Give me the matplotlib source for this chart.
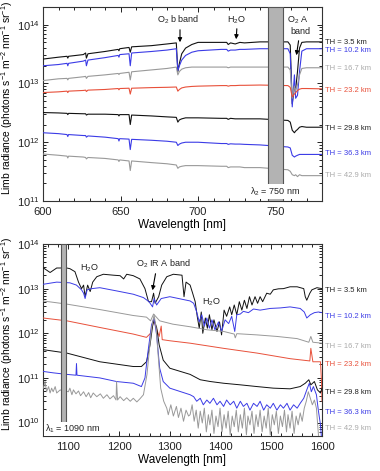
import matplotlib
matplotlib.use('Agg')
import matplotlib.pyplot as plt
from matplotlib.ticker import MultipleLocator, LogLocator, NullFormatter

plt.rcParams['font.family'] = ['Liberation Sans', 'DejaVu Sans']
plt.rcParams['mathtext.fontset'] = 'custom'
plt.rcParams['mathtext.rm'] = 'Liberation Sans'
plt.rcParams['mathtext.it'] = 'Liberation Sans:italic'
plt.rcParams['mathtext.default'] = 'regular'

# ---------------- data ----------------
th_labels = ['TH = 3.5 km', 'TH = 10.2 km', 'TH = 16.7 km', 'TH = 23.2 km',
             'TH = 29.8 km', 'TH = 36.3 km', 'TH = 42.9 km']
line_colors = ['#111111', '#3b3be6', '#999999', '#e8503a', '#111111', '#3b3be6', '#999999']
text_colors = ['#222222', '#3b3be6', '#aaaaaa', '#e8503a', '#222222', '#3b3be6', '#aaaaaa']

# top panel (600-780 nm)
wl_top = [600, 610, 615.5, 616, 616.5, 626, 627.5, 628, 629, 640, 648.5, 649, 649.5,
          655.5, 656.3, 657.2, 670, 680, 686, 687, 688, 689.5, 692, 696, 700, 715,
          718.5, 719.5, 721, 724, 727, 730, 740, 758, 759.5, 760.8, 762.2, 763,
          764.2, 765.5, 767, 770, 780]
top_35 = [2.6e13, 2.8e13, 2.9e13, 2.7e13, 2.9e13, 3.1e13, 3.3e13, 2.7e13, 3.2e13, 3.5e13,
          3.8e13, 3.6e13, 3.9e13, 4.1e13, 3.4e13, 4.2e13, 4.4e13, 4.7e13, 4.9e13, 1.6e13,
          2.2e13, 3.2e13, 4.0e13, 4.6e13, 5.0e13, 5.0e13, 5.0e13, 4.6e13, 4.9e13, 4.7e13,
          5.0e13, 4.9e13, 5.1e13, 5.1e13, 4.5e13, 4.5e12, 9.0e12, 8.0e12, 1.6e13, 4.0e13,
          5.0e13, 5.1e13, 5.1e13]
top_102 = [2.0e13, 2.1e13, 2.2e13, 2.0e13, 2.2e13, 2.4e13, 2.5e13, 2.0e13, 2.5e13, 2.75e13,
           3.0e13, 2.8e13, 3.1e13, 3.2e13, 2.0e13, 3.3e13, 3.5e13, 3.7e13, 3.9e13, 1.66e13,
           2.0e13, 2.5e13, 3.0e13, 3.4e13, 3.6e13, 3.8e13, 3.8e13, 3.55e13, 3.7e13, 3.7e13,
           3.8e13, 3.8e13, 3.9e13, 3.9e13, 3.2e13, 4.0e12, 1.4e13, 5.6e12, 6.3e12, 1.6e13,
           3.55e13, 3.9e13, 3.9e13]
top_167 = [1.12e13, 1.2e13, 1.22e13, 1.15e13, 1.22e13, 1.3e13, 1.32e13, 1.22e13, 1.32e13, 1.4e13,
           1.48e13, 1.42e13, 1.48e13, 1.55e13, 1.15e13, 1.58e13, 1.7e13, 1.8e13, 1.9e13, 1.4e13,
           1.6e13, 1.75e13, 1.85e13, 1.9e13, 1.9e13, 1.9e13, 1.9e13, 1.85e13, 1.9e13, 1.9e13,
           1.9e13, 1.9e13, 1.9e13, 1.9e13, 1.7e13, 5.6e12, 9.0e12, 7.5e12, 9.5e12, 1.4e13,
           1.8e13, 1.85e13, 1.85e13]
top_232 = [7.0e12, 7.2e12, 7.4e12, 7.0e12, 7.4e12, 7.6e12, 7.7e12, 7.3e12, 7.7e12, 7.9e12,
           8.2e12, 7.8e12, 8.2e12, 8.3e12, 6.6e12, 8.3e12, 8.5e12, 8.6e12, 8.7e12, 7.4e12,
           7.9e12, 8.4e12, 8.7e12, 8.9e12, 9.0e12, 9.2e12, 9.2e12, 9.0e12, 9.2e12, 9.2e12,
           9.3e12, 9.3e12, 9.4e12, 9.2e12, 8.6e12, 5.9e12, 6.6e12, 7.0e12, 7.6e12, 8.0e12,
           8.2e12, 8.2e12, 8.1e12]
top_298 = [3.2e12, 3.15e12, 3.1e12, 2.95e12, 3.1e12, 3.05e12, 3.05e12, 2.9e12, 3.0e12, 3.0e12,
           2.95e12, 2.8e12, 2.95e12, 2.95e12, 2.0e12, 2.9e12, 2.8e12, 2.7e12, 2.65e12, 2.2e12,
           2.4e12, 2.5e12, 2.6e12, 2.6e12, 2.6e12, 2.55e12, 2.55e12, 2.45e12, 2.55e12, 2.5e12,
           2.5e12, 2.5e12, 2.5e12, 2.35e12, 2.2e12, 1.6e12, 1.45e12, 1.55e12, 1.65e12, 1.8e12,
           1.85e12, 1.8e12, 1.8e12]
top_363 = [1.45e12, 1.4e12, 1.35e12, 1.25e12, 1.35e12, 1.3e12, 1.3e12, 1.22e12, 1.28e12, 1.22e12,
           1.15e12, 1.05e12, 1.15e12, 1.13e12, 7.5e11, 1.12e12, 1.08e12, 1.04e12, 1.0e12, 8.8e11,
           9.3e11, 9.7e11, 1.0e12, 1.0e12, 1.0e12, 9.5e11, 9.5e11, 9.2e11, 9.4e11, 9.3e11,
           9.3e11, 9.2e11, 9.0e11, 8.3e11, 8.0e11, 6.0e11, 5.6e11, 5.8e11, 6.0e11, 6.2e11,
           6.2e11, 6.2e11, 6.2e11]
top_429 = [6.3e11, 6.0e11, 5.8e11, 5.4e11, 5.8e11, 5.6e11, 5.5e11, 5.2e11, 5.5e11, 5.3e11,
           5.0e11, 4.7e11, 5.0e11, 4.8e11, 3.3e11, 4.8e11, 4.5e11, 4.3e11, 4.1e11, 3.6e11,
           3.8e11, 3.9e11, 4.0e11, 4.0e11, 4.0e11, 3.9e11, 3.9e11, 3.7e11, 3.8e11, 3.8e11,
           3.8e11, 3.7e11, 3.7e11, 3.4e11, 3.2e11, 2.8e11, 2.7e11, 2.8e11, 2.6e11, 2.8e11,
           2.7e11, 2.7e11, 2.7e11]
top_series = [top_35, top_102, top_167, top_232, top_298, top_363, top_429]

# bottom panel (1050-1600 nm)
b35_wl = [1051, 1064, 1077, 1097, 1103, 1113, 1120, 1126, 1130, 1133, 1138, 1143, 1148, 1156,
          1169, 1189, 1202, 1209, 1215, 1228, 1241, 1251, 1258, 1264, 1268, 1271, 1278, 1284,
          1294, 1307, 1324, 1328, 1332, 1340, 1345, 1350, 1354, 1358, 1362, 1365, 1370, 1374,
          1378, 1383, 1387, 1393, 1398, 1402, 1407, 1412, 1418, 1422, 1427, 1432, 1437, 1442,
          1447, 1452, 1457, 1462, 1468, 1473, 1478, 1483, 1491, 1498, 1504, 1514, 1524, 1537,
          1551, 1564, 1567, 1570, 1576, 1580, 1590, 1600]
b35_val = [2.9e13, 2.3e13, 2.9e13, 2.9e13, 2.8e13, 2.4e13, 1.4e13, 1.0e13, 1.2e13, 6.6e12,
           1.2e13, 8.6e12, 1.4e13, 1.85e13, 2.1e13, 2.0e13, 1.95e13, 1.65e13, 2.1e13, 1.95e13,
           1.65e13, 1.0e13, 5.1e12, 5.1e12, 7.9e12, 4.7e12, 6.6e12, 1.2e13, 1.85e13, 2.1e13,
           2.0e13, 6.6e12, 1.4e13, 1.2e13, 7.9e12, 5.1e12, 2.4e12, 1.3e12, 3.0e12, 1.0e12,
           2.2e12, 1.3e12, 2.6e12, 1.2e12, 2.0e12, 1.1e12, 1.8e12, 9.2e11, 3.3e12, 2.4e12,
           3.9e12, 2.6e12, 4.3e12, 2.6e12, 5.1e12, 3.3e12, 5.5e12, 3.6e12, 6.6e12, 4.3e12,
           6.6e12, 4.7e12, 6.6e12, 5.1e12, 7.9e12, 7.5e12, 9.4e12, 9.9e12, 1.0e13, 1.1e13,
           1.1e13, 1.0e13, 6.6e12, 5.5e12, 7.9e12, 9.4e12, 1.05e13, 1.0e13]

b102_wl = [1050, 1077, 1103, 1116, 1126, 1130, 1133, 1137, 1146, 1162, 1195, 1228, 1248, 1259,
           1266, 1269, 1274, 1283, 1300, 1340, 1347, 1353, 1358, 1363, 1368, 1373, 1378, 1383,
           1389, 1396, 1402, 1409, 1416, 1422, 1428, 1432, 1439, 1445, 1455, 1465, 1478, 1498,
           1518, 1537, 1557, 1565, 1570, 1577, 1585, 1593, 1600]
b102_val = [1.25e13, 1.4e13, 1.35e13, 1.2e13, 9.4e12, 7.9e12, 6.0e12, 9.4e12, 1.0e13, 1.05e13,
            8.9e12, 7.5e12, 6.3e12, 5.1e12, 3.9e12, 6.0e12, 4.3e12, 6.0e12, 6.6e12, 5.3e12,
            4.7e12, 3.0e12, 1.8e12, 2.6e12, 1.45e12, 2.2e12, 1.3e12, 2.0e12, 1.2e12, 1.8e12,
            1.1e12, 2.0e12, 1.65e12, 2.4e12, 1.1e12, 2.6e12, 2.7e12, 3.1e12, 2.9e12, 3.5e12,
            3.3e12, 3.6e12, 3.7e12, 3.9e12, 3.6e12, 3.0e12, 2.2e12, 2.6e12, 2.9e12, 3.0e12,
            2.9e12]

b167_wl = [1050, 1097, 1162, 1228, 1254, 1262, 1268, 1272, 1280, 1306, 1340, 1373, 1406, 1427,
           1429, 1432, 1472, 1511, 1551, 1574, 1578, 1582, 1600]
b167_val = [5.3e12, 4.5e12, 3.4e12, 2.5e12, 2.3e12, 1.9e12, 2.7e12, 2.4e12, 1.9e12, 1.6e12,
            1.4e12, 1.2e12, 1.1e12, 9.6e11, 7.9e11, 9.8e11, 9.2e11, 8.5e11, 7.6e11, 6.3e11,
            8.5e11, 6.3e11, 6.0e11]

b232_wl = [1050, 1097, 1162, 1228, 1254, 1262, 1268, 1272, 1279, 1283, 1285, 1300, 1340, 1406,
           1472, 1537, 1576, 1578, 1582, 1597, 1599, 1600]
b232_val = [2.2e12, 1.9e12, 1.35e12, 9.6e11, 8.1e11, 1.0e12, 2.0e12, 1.45e12, 8.5e11, 1.45e12,
            7.2e11, 6.8e11, 6.0e11, 4.6e11, 3.6e11, 2.7e11, 2.4e11, 4.6e11, 2.3e11, 2.3e11,
            8.3e10, 3.0e10]

b298_wl = [1050, 1097, 1162, 1228, 1244, 1254, 1261, 1266, 1269, 1274, 1279, 1287, 1300, 1340,
           1360, 1380, 1406, 1439, 1472, 1504, 1537, 1557, 1567, 1574, 1578, 1585, 1591, 1597,
           1600]
b298_val = [4.3e11, 3.6e11, 2.3e11, 1.8e11, 1.8e11, 2.3e11, 5.5e11, 1.45e12, 2.0e12, 1.35e12,
            5.5e11, 2.5e11, 1.65e11, 1.2e11, 9.1e10, 8.3e10, 7.6e10, 7.0e10, 6.4e10, 5.9e10,
            5.7e10, 6.4e10, 7.6e10, 9.1e10, 7.0e10, 8.3e10, 5.4e10, 4.6e10, 5.9e10]

b363_wl = [1050, 1070, 1097, 1115, 1116, 1117, 1162, 1195, 1228, 1244, 1251, 1257, 1264, 1269,
           1274, 1280, 1287, 1300, 1340, 1347, 1353, 1360, 1366, 1373, 1379, 1386, 1393, 1399,
           1406, 1412, 1419, 1426, 1432, 1439, 1445, 1452, 1458, 1465, 1472, 1478, 1485, 1491,
           1498, 1504, 1511, 1518, 1524, 1531, 1537, 1544, 1551, 1557, 1564, 1570, 1575, 1579,
           1583, 1589, 1593, 1597, 1599]
b363_val = [1.4e11, 1.3e11, 1.2e11, 1.15e11, 2.1e11, 1.15e11, 1.0e11, 8.3e10, 7.6e10, 6.4e10,
            1.0e11, 3.9e11, 1.55e12, 2.2e12, 9.2e11, 1.65e11, 8.3e10, 5.9e10, 4.2e10, 3.8e10,
            3.0e10, 3.5e10, 2.5e10, 3.2e10, 2.7e10, 3.5e10, 2.5e10, 3.0e10, 2.3e10, 3.2e10,
            2.5e10, 3.0e10, 2.1e10, 3.0e10, 2.3e10, 2.7e10, 1.9e10, 2.7e10, 2.3e10, 3.0e10,
            1.9e10, 2.5e10, 2.1e10, 2.7e10, 1.9e10, 2.5e10, 2.1e10, 2.7e10, 1.9e10, 2.5e10,
            2.1e10, 2.7e10, 3.5e10, 5.4e10, 7.6e10, 4.9e10, 6.4e10, 4.2e10, 1.8e10, 8.9e9,
            4.5e9]

b429_wl = [1051, 1054, 1057, 1061, 1064, 1067, 1070, 1074, 1077, 1084, 1090, 1097, 1100, 1103,
           1107, 1110, 1115, 1120, 1124, 1130, 1135, 1140, 1144, 1149, 1156, 1163, 1169, 1176,
           1182, 1189, 1194, 1195, 1197, 1202, 1209, 1215, 1222, 1228, 1235, 1241, 1248, 1255,
           1260, 1264, 1269, 1273, 1278, 1282, 1288, 1294, 1297, 1302, 1307, 1313, 1317, 1322,
           1327, 1332, 1337, 1340, 1344, 1348, 1352, 1356, 1360, 1364, 1368, 1372, 1376, 1379,
           1383, 1387, 1391, 1395, 1399, 1403, 1407, 1411, 1415, 1419, 1423, 1427, 1431, 1435,
           1439, 1443, 1447, 1451, 1454, 1458, 1462, 1466, 1470, 1474, 1478, 1482, 1486, 1490,
           1494, 1498, 1502, 1506, 1510, 1514, 1518, 1522, 1526, 1530, 1533, 1537, 1541, 1545,
           1549, 1553, 1557, 1561, 1565, 1569, 1573, 1577, 1581, 1585, 1589, 1593, 1597, 1600]
b429_val = [5.9e10, 8.3e10, 4.9e10, 6.4e10, 4.6e10, 5.9e10, 4.9e10, 6.4e10, 4.6e10, 5.4e10,
            4.9e10, 5.0e10, 4.9e10, 5.9e10, 4.2e10, 5.4e10, 4.4e10, 5.1e10, 4.0e10, 4.9e10,
            3.8e10, 4.7e10, 3.6e10, 4.6e10, 3.8e10, 4.4e10, 3.5e10, 4.2e10, 3.4e10, 4.0e10,
            3.2e10, 8.3e10, 3.2e10, 3.8e10, 3.1e10, 3.6e10, 3.0e10, 3.5e10, 2.9e10, 3.4e10,
            4.2e10, 1.2e11, 4.6e11, 1.3e12, 2.6e12, 1.3e12, 2.3e11, 5.9e10, 3.0e10, 2.1e10,
            1.5e10, 2.5e10, 1.4e10, 2.3e10, 1.3e10, 2.1e10, 1.07e10, 1.9e10, 1.4e10, 1.5e10,
            2.5e10, 1.07e10, 1.9e10, 7.5e9, 1.8e10, 9.8e9, 2.1e10, 6.2e9, 1.5e10, 8.9e9,
            1.9e10, 5.7e9, 1.4e10, 8.1e9, 2.1e10, 6.2e9, 1.5e10, 7.5e9, 1.8e10, 5.3e9,
            1.4e10, 8.1e9, 1.9e10, 6.2e9, 1.5e10, 7.5e9, 2.1e10, 5.3e9, 1.4e10, 8.9e9,
            1.8e10, 5.7e9, 1.5e10, 8.1e9, 1.9e10, 6.2e9, 1.4e10, 7.5e9, 2.1e10, 5.3e9,
            1.5e10, 8.9e9, 1.8e10, 5.7e9, 1.4e10, 8.1e9, 1.9e10, 6.2e9, 1.5e10, 7.5e9,
            1.8e10, 5.7e9, 1.4e10, 8.9e9, 1.65e10, 1.07e10, 2.1e10, 3.0e10, 4.9e10, 3.5e10,
            2.5e10, 3.2e10, 2.1e10, 5.3e9, 2.7e9, 2.7e9]

bottom_wls = [b35_wl, b102_wl, b167_wl, b232_wl, b298_wl, b363_wl, b429_wl]
bottom_vals = [b35_val, b102_val, b167_val, b232_val, b298_val, b363_val, b429_val]

# label positions (pixels from top of figure) for the TH labels
W, H = 380, 471
th_y_top = [42, 51, 69, 90, 128, 154, 176]
th_y_bot = [290, 316, 346, 364, 392, 412, 429]

# ---------------- figure ----------------
fig = plt.figure(figsize=(W / 100, H / 100), dpi=100)
ax1 = fig.add_axes([43 / W, 1 - 201 / H, 279 / W, 194 / H])
ax2 = fig.add_axes([43 / W, 1 - 436 / H, 279 / W, 192 / H])

for vals, c in zip(top_series, line_colors):
    ax1.plot(wl_top, vals, color=c, lw=0.8, zorder=3)
for wls, vals, c in zip(bottom_wls, bottom_vals, line_colors):
    ax2.plot(wls, vals, color=c, lw=0.7, zorder=3)

ax1.axvspan(745, 755, facecolor='#b3b3b3', edgecolor='#555555', lw=0.8, zorder=5)
ax2.axvspan(1085, 1095, facecolor='#b3b3b3', edgecolor='#555555', lw=0.8, zorder=5)

for ax in (ax1, ax2):
    ax.set_yscale('log')
    ax.tick_params(which='both', direction='in', top=True, right=True,
                   labelsize=8, width=0.7, colors='#222222')
    ax.tick_params(which='major', length=3.5)
    ax.tick_params(which='minor', length=2)
    ax.tick_params(axis='y', which='major', pad=2.5)
    ax.tick_params(axis='x', which='major', pad=4)
    ax.yaxis.set_major_locator(LogLocator(base=10, numticks=10))
    ax.yaxis.set_minor_locator(LogLocator(base=10, subs=range(2, 10), numticks=20))
    ax.yaxis.set_minor_formatter(NullFormatter())
    for s in ax.spines.values():
        s.set_linewidth(0.8)
        s.set_color('#333333')
    ax.set_xlabel('Wavelength [nm]', fontsize=8.5, labelpad=1.5)
    ax.set_ylabel('Limb radiance (photons s$^{-1}$ m$^{-2}$ nm$^{-1}$ sr$^{-1}$)', fontsize=7.4)
    ax.yaxis.set_label_coords(-0.10, 0.53)

ax1.set_xlim(600, 780)
ax1.set_ylim(1e11, 2e14)
ax1.xaxis.set_major_locator(MultipleLocator(50))
ax1.xaxis.set_minor_locator(MultipleLocator(10))

ax2.set_xlim(1050, 1600)
ax2.set_ylim(5e9, 1e14)
ax2.xaxis.set_major_locator(MultipleLocator(100))
ax2.xaxis.set_minor_locator(MultipleLocator(20))

# TH labels
for lab, c, yt, yb in zip(th_labels, text_colors, th_y_top, th_y_bot):
    fig.text(325 / W, 1 - yt / H, lab, color=c, fontsize=5.5, va='center', ha='left')
    fig.text(325 / W, 1 - yb / H, lab, color=c, fontsize=5.5, va='center', ha='left')

def px(x, y):
    return (x / W, 1 - y / H)

ann = dict(fontsize=6.5, color='#222222', ha='center', va='center')
arrow = dict(arrowstyle='-|>', color='black', lw=0.8, mutation_scale=6)

# top annotations
fig.text(*px(178, 20), 'O$_2$ b band', **ann)
fig.text(*px(236, 20), 'H$_2$O', **ann)
fig.text(*px(298, 20), 'O$_2$ A', **ann)
fig.text(*px(300, 32), 'band', **ann)
ax1.annotate('', xy=px(180, 45), xytext=px(180, 27), xycoords='figure fraction',
             textcoords='figure fraction', arrowprops=arrow)
ax1.annotate('', xy=px(236, 42), xytext=px(237, 26), xycoords='figure fraction',
             textcoords='figure fraction', arrowprops=arrow)
ax1.annotate('', xy=px(296, 58), xytext=px(299, 38), xycoords='figure fraction',
             textcoords='figure fraction', arrowprops=arrow)
ax1.text(750, 1.45e11, '$\\lambda_2$ = 750 nm', fontsize=6.5, color='#222222',
         ha='center', va='center', zorder=6,
         bbox=dict(facecolor='white', edgecolor='none', pad=0.6))

# bottom annotations
fig.text(*px(89, 268), 'H$_2$O', **ann)
fig.text(*px(163, 264), 'O$_2$ IR A band', **ann)
fig.text(*px(211, 302), 'H$_2$O', **ann)
ax2.annotate('', xy=px(152, 293), xytext=px(156, 271), xycoords='figure fraction',
             textcoords='figure fraction', arrowprops=arrow)
ax2.text(1054, 7.2e9, '$\\lambda_1$ = 1090 nm', fontsize=6.5, color='#222222',
         ha='left', va='center', zorder=6,
         bbox=dict(facecolor='white', edgecolor='none', pad=0.6))

fig.savefig('out.png', dpi=100)
